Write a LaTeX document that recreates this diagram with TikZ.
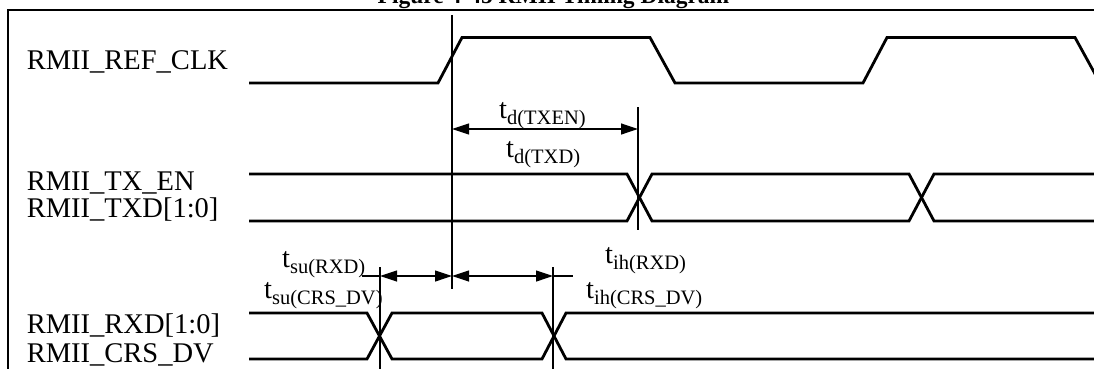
\documentclass[tikz,border=0pt]{standalone}
\usepackage{fontspec}
\setmainfont{Liberation Serif}
\usetikzlibrary{arrows.meta}
\newcommand{\tlab}[1]{t\raisebox{-6.5pt}{\fontsize{20.5}{22}\selectfont #1}}
\begin{document}
\begin{tikzpicture}[x=1pt,y=-1pt,
  font=\fontsize{28.5}{30}\selectfont,
  sig/.style={line width=2.8pt},
  thinln/.style={line width=1.2pt},
  dimln/.style={line width=1.2pt,{Triangle[length=17pt,width=11pt]}-{Triangle[length=17pt,width=11pt]}},
  lbl/.style={anchor=base west,inner sep=0pt},
  frameln/.style={line width=1.5pt}]
\useasboundingbox (0,0) rectangle (1094,369);
\clip (0,0) rectangle (1094,369);
% title and frame
\node[anchor=base,inner sep=0pt,font=\fontsize{23.5}{25}\selectfont\bfseries] (title) at (553.5,4) {Figure 4-45 RMII Timing Diagram};
\draw[frameln] (8,372) -- (8,10) -- (1100,10);
% signal labels
\node[lbl] (clk) at (26.7,70) {RMII\_REF\_CLK};
\node[lbl] (txen) at (26.7,190.5) {RMII\_TX\_EN};
\node[lbl] (txd) at (26.7,217.5) {RMII\_TXD[1:0]};
\node[lbl] (rxd) at (26.7,333) {RMII\_RXD[1:0]};
\node[lbl] (crs) at (26.7,362.5) {RMII\_CRS\_DV};
% waveforms
\draw[sig] (249,83) -- (438,83) -- (462,37.5) -- (650,37.5) -- (675,83) -- (863,83) -- (887,37.5) -- (1075,37.5) -- (1100,83);
\draw[sig] (249,174) -- (627,174) -- (652,221) -- (909,221) -- (934,174) -- (1100,174);
\draw[sig] (249,221) -- (627,221) -- (652,174) -- (909,174) -- (934,221) -- (1100,221);
\draw[sig] (249,313) -- (367,313) -- (392,359) -- (542,359) -- (566,313) -- (1100,313);
\draw[sig] (249,359) -- (367,359) -- (392,313) -- (542,313) -- (566,359) -- (1100,359);
% reference lines
\coordinate (clkT) at (452,15);
\coordinate (clkB) at (452,289);
\coordinate (txT) at (638,107);
\coordinate (txB) at (638,230);
\coordinate (suT) at (380,267);
\coordinate (suB) at (380,372);
\coordinate (ihT) at (553,267);
\coordinate (ihB) at (553,372);
\draw[thinln] (clkT) -- (clkB);
\draw[thinln] (txT) -- (txB);
\draw[thinln] (suT) -- (suB);
\draw[thinln] (ihT) -- (ihB);
% dimension arrows
\coordinate (dA) at (452,129);
\coordinate (dB) at (638,129);
\coordinate (sA) at (380,276);
\coordinate (sM) at (452,276);
\coordinate (sB) at (553,276);
\coordinate (sL) at (362,276);
\coordinate (sR) at (573,276);
\draw[dimln] (dA) -- (dB);
\draw[dimln] (sA) -- (sM);
\draw[dimln] (sM) -- (sB);
\draw[thinln] (sL) -- (sA);
\draw[thinln] (sB) -- (sR);
% timing labels
\node[lbl] (tdtxen) at (499,118) {\tlab{d(TXEN)}};
\node[lbl] (tdtxd) at (506,157) {\tlab{d(TXD)}};
\node[lbl] (tsurxd) at (282,267) {\tlab{su(RXD)}};
\node[lbl] (tsucrs) at (264,298) {\tlab{su(CRS\_DV)}};
\node[lbl] (tihrxd) at (605,263) {\tlab{ih(RXD)}};
\node[lbl] (tihcrs) at (586,298) {\tlab{ih(CRS\_DV)}};
\end{tikzpicture}
\end{document}
